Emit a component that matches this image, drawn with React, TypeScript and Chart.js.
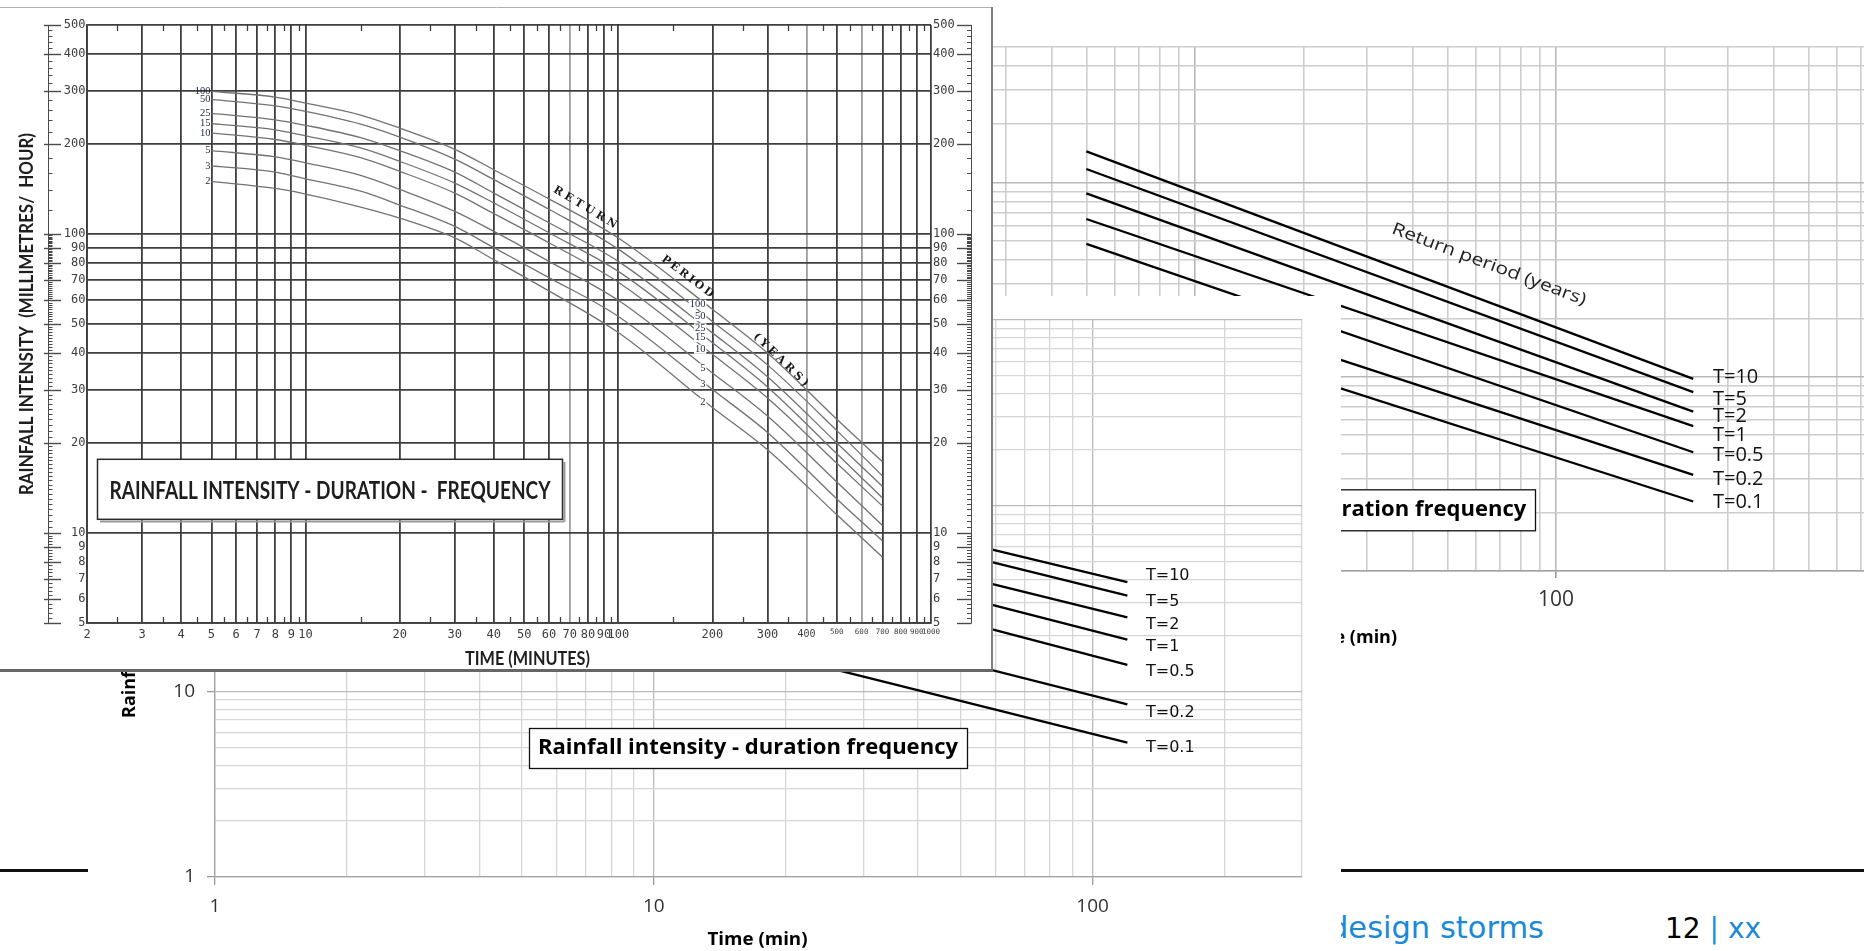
import React, { useEffect, useRef } from "react";
import { Chart, registerables } from "chart.js";

Chart.register(...registerables);

/* ================= DATA : scanned IDF chart (front) ================= */
const idfDurations = [5, 8, 10, 15, 20, 30, 40, 60, 100, 200, 300, 500, 700];
const idfT100 = [300, 287, 274, 250, 226, 192, 164, 131, 97, 56, 40, 24, 17.3];
const idfT50 = [282, 268, 257, 233, 211, 178, 152, 121, 89, 51, 36.5, 22, 15.5];
const idfT25 = [253, 241, 231, 210, 190, 161, 137, 109, 81, 46.7, 33.3, 20, 14.3];
const idfT15 = [234, 223, 213, 194, 175, 148, 127, 101, 75, 43.3, 30.8, 18.4, 13.1];
const idfT10 = [218, 207, 198, 180, 162, 137, 117, 93.5, 69, 39.6, 28.3, 17.1, 12.3];
const idfT5 = [190, 181, 173, 157, 141, 119, 102, 81, 60, 34.3, 24.6, 14.8, 10.6];
const idfT3 = [169, 161, 153, 139, 125, 106, 90, 71.5, 53, 30.2, 21.7, 13, 9.4];
const idfT2 = [150, 142, 136, 123, 113, 97, 82, 64.5, 46.8, 26.3, 19, 11.5, 8.3];
const idfReturnPeriods = ["100", "50", "25", "15", "10", "5", "3", "2"];
const idfXTicks = [2, 3, 4, 5, 6, 7, 8, 9, 10, 20, 30, 40, 50, 60, 70, 80, 90, 100, 200, 300, 400, 500, 600, 700, 800, 900, 1000];
const idfYTicks = [5, 6, 7, 8, 9, 10, 20, 30, 40, 50, 60, 70, 80, 90, 100, 200, 300, 400, 500];
const idfHalfTicks = [2.5, 3.5, 4.5, 5.5, 6.5, 7.5, 8.5, 9.5, 15, 25, 35, 45, 55, 65, 75, 85, 95, 150, 250, 350, 450, 550, 650, 750, 850, 950];

/* ================= DATA : Excel IDF chart (middle) ================= */
const midDurations = [5, 120];
const midT10 = [236, 38.8];
const midT5 = [210, 32.8];
const midT2 = [160, 25.0];
const midT1 = [131, 19.0];
const midT05 = [100, 13.9];
const midT02 = [57, 8.5];
const midT01 = [34.7, 5.3];

/* ================= DATA : Excel IDF chart (back) ================= */
const backDurations = [5, 240];
const backDurationsLow = [10, 240];
const backT10 = [145, 9.76];
const backT5 = [117.6, 8.35];
const backT2 = [88.1, 6.62];
const backT1 = [65, 5.57];
const backT05 = [48.4, 4.09];
const backT02 = [21.5, 3.13];
const backT01 = [15.2, 2.28];

const excelReturnLabels = ["T=10", "T=5", "T=2", "T=1", "T=0.5", "T=0.2", "T=0.1"];
const excelLogTicks = [1, 2, 3, 4, 5, 6, 7, 8, 9, 10, 20, 30, 40, 50, 60, 70, 80, 90, 100, 200, 300, 400, 500, 600, 700, 800, 900, 1000];
const excelDecades = [1, 10, 100, 1000];

/* ================= helpers ================= */
const pts = (xs: number[], ys: number[]) => xs.map((x, i) => ({ x, y: ys[i] }));

function scaledText(ctx: any, text: string, cx: number, cy: number, font: string, width: number, angle = 0) {
  ctx.save();
  ctx.font = font;
  const w = ctx.measureText(text).width;
  ctx.translate(cx, cy);
  if (angle) ctx.rotate((angle * Math.PI) / 180);
  ctx.scale(width / w, 1);
  ctx.textAlign = "center";
  ctx.textBaseline = "middle";
  ctx.fillText(text, 0, 0);
  ctx.restore();
}

function spacedText(ctx: any, text: string, cx: number, cy: number, angle: number, len: number, font: string) {
  ctx.save();
  ctx.font = font;
  const chars = Array.from(text);
  const widths = chars.map((c) => ctx.measureText(c).width);
  const sum = widths.reduce((a, b) => a + b, 0);
  const gap = (len - sum) / (chars.length - 1);
  ctx.translate(cx, cy);
  ctx.rotate((angle * Math.PI) / 180);
  ctx.textAlign = "left";
  ctx.textBaseline = "middle";
  let x = -len / 2;
  chars.forEach((c, i) => {
    ctx.fillText(c, x, 0);
    x += widths[i] + gap;
  });
  ctx.restore();
}

function line(ctx: any, x1: number, y1: number, x2: number, y2: number) {
  ctx.beginPath();
  ctx.moveTo(x1, y1);
  ctx.lineTo(x2, y2);
  ctx.stroke();
}

/* ================= front chart (scanned) ================= */
const frontDecor = {
  id: "frontDecor",
  afterDatasetsDraw(chart: any) {
    const ctx = chart.ctx;
    const xs = chart.scales.x;
    const { top, bottom } = chart.chartArea;
    ctx.save();
    // half-step ticks on top and bottom edges
    ctx.strokeStyle = "#3e3e3e";
    ctx.lineWidth = 1.3;
    idfHalfTicks.forEach((v) => {
      const x = Math.round(xs.getPixelForValue(v)) + 0.5;
      line(ctx, x, top, x, top + 6);
      line(ctx, x, bottom - 6, x, bottom);
    });
    // return-period labels at the start of the curves and in the middle
    ctx.font = '10.5px "Liberation Serif"';
    ctx.textBaseline = "middle";
    ctx.textAlign = "right";
    chart.data.datasets.forEach((_ds: any, i: number) => {
      const meta = chart.getDatasetMeta(i);
      const p0 = meta.data[0];
      ctx.fillStyle = "#1d2545";
      ctx.fillText(idfReturnPeriods[i], p0.x - 1, p0.y);
      const pm = meta.data[9];
      const w = ctx.measureText(idfReturnPeriods[i]).width;
      ctx.fillStyle = "#fff";
      ctx.fillRect(pm.x - 7 - w - 1, pm.y - 5 - 4.5, w + 2, 9);
      ctx.fillStyle = "#1d2545";
      ctx.fillText(idfReturnPeriods[i], pm.x - 7, pm.y - 5);
    });
    // RETURN PERIOD (YEARS)
    ctx.fillStyle = "#1a1a1a";
    spacedText(ctx, "RETURN", 585, 200.5, 31, 72, 'bold 11px "DejaVu Serif"');
    spacedText(ctx, "PERIOD", 687.5, 269.7, 37, 62, 'bold 11px "DejaVu Serif"');
    spacedText(ctx, "(YEARS)", 780.8, 353, 44, 72, 'bold 11px "DejaVu Serif"');
    // title box
    ctx.fillStyle = "#fff";
    ctx.fillRect(97.5, 452.3, 465, 60);
    ctx.strokeStyle = "#9a9a9a";
    ctx.lineWidth = 2;
    line(ctx, 564.5, 455, 564.5, 514.5);
    line(ctx, 100, 514.5, 564.5, 514.5);
    ctx.strokeStyle = "#2a2a2a";
    ctx.lineWidth = 1.5;
    ctx.strokeRect(97.5, 452.3, 465, 60);
    ctx.fillStyle = "#1e1e1e";
    scaledText(ctx, "RAINFALL INTENSITY - DURATION -  FREQUENCY", 330, 484.5, 'bold 24px "Lato"', 441);
    ctx.restore();
  },
  afterDraw(chart: any) {
    const ctx = chart.ctx;
    const ys = chart.scales.y;
    const w = chart.width;
    const h = chart.height;
    ctx.save();
    // tick rulers at both sides
    const spineL = 48.5;
    const spineR = 971.5;
    ctx.strokeStyle = "#4a4a4a";
    ctx.lineWidth = 1;
    line(ctx, spineL, ys.top, spineL, ys.bottom);
    line(ctx, spineR, ys.top, spineR, ys.bottom);
    const minor: number[] = [];
    for (let v = 5; v < 9.99; v += 0.2) minor.push(v);
    for (let v = 10; v < 19.99; v += 0.5) minor.push(v);
    for (let v = 20; v < 99.9; v += 1) minor.push(v);
    for (let v = 100; v < 499; v += 20) minor.push(v);
    minor.forEach((v) => {
      const y = Math.round(ys.getPixelForValue(v)) + 0.5;
      line(ctx, spineL, y, spineL + 4, y);
      line(ctx, spineR - 4.5, y, spineR, y);
    });
    ctx.lineWidth = 1.4;
    idfYTicks.forEach((v) => {
      const y = Math.round(ys.getPixelForValue(v)) + 0.5;
      line(ctx, 44, y, 61, y);
      line(ctx, 957, y, spineR, y);
    });
    // axis titles
    ctx.fillStyle = "#1e1e1e";
    scaledText(ctx, "TIME (MINUTES)", 527.5, 652, 'bold 19px "Lato"', 125);
    scaledText(ctx, "RAINFALL INTENSITY  (MILLIMETRES/  HOUR)", 27.5, 307, 'bold 18px "Lato"', 362, -90);
    // frame of the picture
    ctx.strokeStyle = "#b0b0b0";
    ctx.lineWidth = 1;
    line(ctx, 0, 0.5, w, 0.5);
    ctx.strokeStyle = "#808080";
    ctx.lineWidth = 2;
    line(ctx, w - 1, 0, w - 1, h);
    ctx.strokeStyle = "#666";
    ctx.lineWidth = 3;
    line(ctx, 0, h - 1.5, w, h - 1.5);
    ctx.restore();
  },
};

function makeFrontConfig() {
  const series = [idfT100, idfT50, idfT25, idfT15, idfT10, idfT5, idfT3, idfT2];
  const dark = "#3e3e3e";
  const monoFont = { family: '"DejaVu Sans Mono", monospace', size: 12 };
  return {
    type: "line",
    data: {
      datasets: series.map((vals, i) => ({
        label: idfReturnPeriods[i] + " years",
        data: pts(idfDurations, vals),
        borderColor: "#727272",
        borderWidth: 1.3,
        pointRadius: 0,
        cubicInterpolationMode: "monotone",
        fill: false,
      })),
    },
    options: {
      animation: false,
      responsive: false,
      devicePixelRatio: 1,
      layout: { padding: { top: 18, left: 0, right: 0, bottom: 0 } },
      plugins: { legend: { display: false }, tooltip: { enabled: false } },
      scales: {
        x: {
          type: "logarithmic",
          min: 2,
          max: 1000,
          afterBuildTicks: (s: any) => {
            s.ticks = idfXTicks.map((v) => ({ value: v }));
          },
          afterFit: (s: any) => {
            s.height = 49;
          },
          grid: {
            color: (c: any) => {
              const v = c.tick?.value;
              return v === 70 || v === 400 || v === 600 ? "#9c9c9c" : dark;
            },
            lineWidth: 1.8,
            drawTicks: false,
          },
          border: { color: dark, width: 1.8 },
          ticks: {
            autoSkip: false,
            maxRotation: 0,
            minRotation: 0,
            padding: 5,
            color: "#3c3c3c",
            font: (c: any) => {
              const v = c.tick?.value;
              return { family: '"DejaVu Sans Mono", monospace', size: v >= 500 ? 7.5 : v === 400 ? 10 : 12 };
            },
            callback: (v: any) => String(v),
          },
        },
        y: {
          type: "logarithmic",
          position: "left",
          min: 5,
          max: 500,
          afterBuildTicks: (s: any) => {
            s.ticks = idfYTicks.map((v) => ({ value: v }));
          },
          afterFit: (s: any) => {
            s.width = 87;
          },
          grid: {
            color: (c: any) => ([6, 7, 8, 9].includes(c.tick?.value) ? "rgba(0,0,0,0)" : dark),
            lineWidth: 1.8,
            drawTicks: false,
          },
          border: { color: dark, width: 1.8 },
          ticks: { autoSkip: false, padding: 1.5, color: "#3c3c3c", font: monoFont, callback: (v: any) => String(v) },
        },
        y2: {
          type: "logarithmic",
          position: "right",
          display: true,
          min: 5,
          max: 500,
          afterBuildTicks: (s: any) => {
            s.ticks = idfYTicks.map((v) => ({ value: v }));
          },
          afterFit: (s: any) => {
            s.width = 62;
          },
          grid: { display: false, drawTicks: false },
          border: { display: false },
          ticks: { autoSkip: false, padding: 2, color: "#3c3c3c", font: monoFont, callback: (v: any) => String(v) },
        },
      },
    },
    plugins: [frontDecor],
  };
}

/* ================= Excel charts ================= */
function excelScales(opts: any) {
  const isDec = (c: any) => excelDecades.includes(c.tick?.value);
  const grid = {
    color: (c: any) => (isDec(c) ? opts.major : opts.minor),
    lineWidth: opts.lw,
    tickLength: opts.tickLen,
    tickColor: (c: any) => (isDec(c) ? "#9a9a9a" : "rgba(0,0,0,0)"),
  };
  const tickFont = { family: '"Open Sans"', size: opts.fontSize };
  return {
    x: {
      type: "logarithmic",
      min: 1,
      max: opts.xMax,
      afterBuildTicks: (s: any) => {
        s.ticks = excelLogTicks.filter((v) => v <= opts.xMax).map((v) => ({ value: v }));
      },
      afterFit: (s: any) => {
        s.height = opts.xHeight;
      },
      grid,
      border: { color: "#a3a3a3", width: opts.lw },
      ticks: {
        autoSkip: false,
        maxRotation: 0,
        minRotation: 0,
        padding: opts.xPad,
        color: "#333",
        font: tickFont,
        callback: (v: any) => (excelDecades.includes(Number(v)) ? String(v) : ""),
      },
    },
    y: {
      type: "logarithmic",
      min: 1,
      max: opts.yMax,
      afterBuildTicks: (s: any) => {
        s.ticks = excelLogTicks.filter((v) => v <= opts.yMax).map((v) => ({ value: v }));
      },
      afterFit: (s: any) => {
        s.width = opts.yWidth;
      },
      grid,
      border: { color: "#a3a3a3", width: opts.lw },
      ticks: {
        autoSkip: false,
        padding: opts.yPad,
        color: "#333",
        font: tickFont,
        callback: (v: any) => (excelDecades.includes(Number(v)) ? String(v) : ""),
      },
    },
  };
}

function excelDatasets(series: number[][], durations: number[][]) {
  return series.map((vals, i) => ({
    label: excelReturnLabels[i],
    data: pts(durations[i], vals),
    borderColor: "#000",
    borderWidth: 2.3,
    pointRadius: 0,
    fill: false,
  }));
}

const midLabelNudge = [-6, 6.5, 7.5, 7.5, 7.5, 8.5, 5];
const backLabelNudge = [-1.5, 7, 5, 9.5, 3, 4.5, 1];

const midDecor = {
  id: "midDecor",
  afterDatasetsDraw(chart: any) {
    const ctx = chart.ctx;
    ctx.save();
    ctx.font = '16px "DejaVu Sans"';
    ctx.fillStyle = "#111";
    ctx.textAlign = "left";
    ctx.textBaseline = "middle";
    chart.data.datasets.forEach((_ds: any, i: number) => {
      const meta = chart.getDatasetMeta(i);
      const p = meta.data[meta.data.length - 1];
      ctx.fillText(excelReturnLabels[i], p.x + 18.6, p.y + midLabelNudge[i]);
    });
    ctx.fillStyle = "#fff";
    ctx.fillRect(441, 432, 438, 40);
    ctx.strokeStyle = "#111";
    ctx.lineWidth = 1.3;
    ctx.strokeRect(441.5, 432.5, 438, 40);
    ctx.fillStyle = "#000";
    scaledText(ctx, "Rainfall intensity - duration frequency", 660, 452, 'bold 21px "Open Sans"', 420);
    scaledText(ctx, "Time (min)", 669.5, 644, 'bold 18px "Open Sans"', 100);
    ctx.save();
    ctx.translate(42, 422);
    ctx.rotate(-Math.PI / 2);
    ctx.font = 'bold 18px "Open Sans"';
    ctx.textAlign = "left";
    ctx.textBaseline = "middle";
    ctx.fillText("Rainfall intensity (mm/h)", 0, 0);
    ctx.restore();
    ctx.restore();
  },
};

const backDecor = {
  id: "backDecor",
  afterDatasetsDraw(chart: any) {
    const ctx = chart.ctx;
    ctx.save();
    ctx.font = '20px "Open Sans"';
    ctx.fillStyle = "#111";
    ctx.textAlign = "left";
    ctx.textBaseline = "middle";
    chart.data.datasets.forEach((_ds: any, i: number) => {
      const meta = chart.getDatasetMeta(i);
      const p = meta.data[meta.data.length - 1];
      ctx.fillText(excelReturnLabels[i], p.x + 19.7, p.y + backLabelNudge[i]);
    });
    ctx.fillStyle = "#222";
    scaledText(ctx, "Return period (years)", 789, 264.5, '17px "Open Sans"', 206, 20.5);
    ctx.fillStyle = "#fff";
    ctx.fillRect(397, 489.3, 438.5, 41.4);
    ctx.strokeStyle = "#111";
    ctx.lineWidth = 1.3;
    ctx.strokeRect(397.5, 489.8, 438, 41);
    ctx.fillStyle = "#000";
    scaledText(ctx, "Rainfall intensity - duration frequency", 616.3, 510, 'bold 22px "Open Sans"', 420);
    ctx.font = 'bold 18px "Open Sans"';
    ctx.textAlign = "center";
    ctx.fillText("Time (min)", 649, 637.5);
    ctx.restore();
  },
};

function makeMidConfig() {
  const series = [midT10, midT5, midT2, midT1, midT05, midT02, midT01];
  return {
    type: "line",
    data: { datasets: excelDatasets(series, series.map(() => midDurations)) },
    options: {
      animation: false,
      responsive: false,
      devicePixelRatio: 1,
      layout: { padding: { top: 24, right: 39, left: 0, bottom: 0 } },
      plugins: { legend: { display: false }, tooltip: { enabled: false } },
      scales: excelScales({
        xMax: 300,
        yMax: 1000,
        xHeight: 74,
        yWidth: 127,
        lw: 1.3,
        major: "#b9b9b9",
        minor: "#d6d6d6",
        tickLen: 8,
        fontSize: 19,
        xPad: 10.3,
        yPad: 12,
      }),
    },
    plugins: [midDecor],
  };
}

function makeBackConfig() {
  const series = [backT10, backT5, backT2, backT1, backT05, backT02, backT01];
  const durs = [backDurations, backDurations, backDurations, backDurations, backDurations, backDurationsLow, backDurationsLow];
  return {
    type: "line",
    data: { datasets: excelDatasets(series, durs) },
    options: {
      animation: false,
      responsive: false,
      devicePixelRatio: 1,
      layout: { padding: { top: 47, right: 83, left: 0, bottom: 0 } },
      plugins: { legend: { display: false }, tooltip: { enabled: false } },
      scales: excelScales({
        xMax: 1000,
        yMax: 500,
        xHeight: 109,
        yWidth: 134,
        lw: 1.6,
        major: "#b8b8b8",
        minor: "#cdcdcd",
        tickLen: 7,
        fontSize: 21,
        xPad: 9.4,
        yPad: 9,
      }),
    },
    plugins: [backDecor],
  };
}

/* ================= React ================= */
function ChartCanvas(props: { make: () => any; left: number; top: number; width: number; height: number; z: number }) {
  const ref = useRef<HTMLCanvasElement | null>(null);
  useEffect(() => {
    if (!ref.current) return;
    const chart = new Chart(ref.current, props.make() as any);
    return () => chart.destroy();
  }, []);
  return (
    <canvas
      ref={ref}
      width={props.width}
      height={props.height}
      style={{
        position: "absolute",
        left: props.left,
        top: props.top,
        width: props.width,
        height: props.height,
        background: "#fff",
        zIndex: props.z,
        display: "block",
      }}
    />
  );
}

export default function App() {
  const footerFont = { fontFamily: '"DejaVu Sans", sans-serif', whiteSpace: "nowrap" as const };
  return (
    <div style={{ position: "fixed", left: 0, top: 0, width: 1864, height: 951, overflow: "hidden", background: "#fff" }}>
      <div style={{ position: "absolute", left: 0, top: 869, width: 1864, height: 3, background: "#111", zIndex: 0 }} />
      <div
        style={{ position: "absolute", left: 1329, top: 913, color: "#1a8ad8", zIndex: 0, fontSize: 30.5, lineHeight: "30.5px", ...footerFont }}
      >
        design storms
      </div>
      <div style={{ position: "absolute", left: 1665, top: 915, color: "#1a8ad8", zIndex: 0, fontSize: 28, lineHeight: "28px", ...footerFont }}>
        <span style={{ color: "#000" }}>12</span> | xx
      </div>
      <ChartCanvas make={makeBackConfig} left={700} top={0} width={1300} height={680} z={1} />
      <ChartCanvas make={makeMidConfig} left={88} top={296} width={1253} height={655} z={2} />
      <ChartCanvas make={makeFrontConfig} left={0} top={7} width={993} height={665} z={3} />
    </div>
  );
}
